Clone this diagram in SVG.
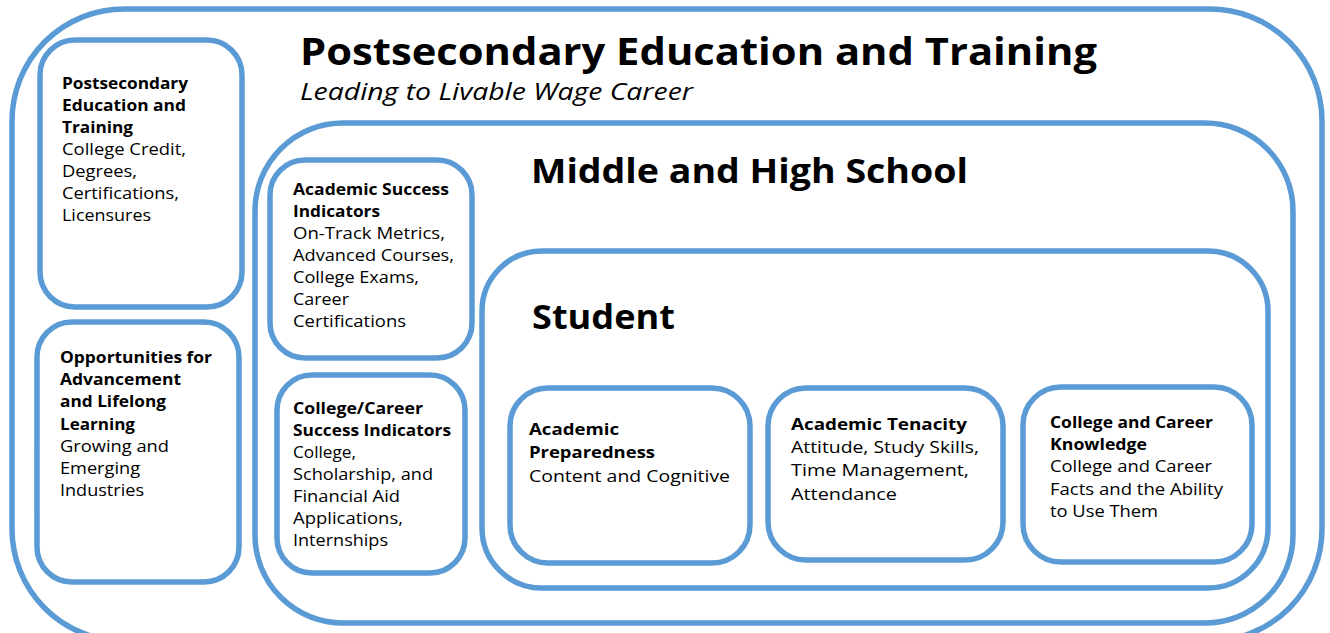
<svg xmlns="http://www.w3.org/2000/svg" width="1330" height="633" viewBox="0 0 1330 633">
<style>
.box{fill:#fff;stroke:#5b9bd5;stroke-width:5.5}
text{font-family:"Open Sans","DejaVu Sans",sans-serif;fill:#000}
.t{font-size:16.5px}
.b{font-size:16.5px;font-weight:bold}
.h1{font-size:38px;font-weight:bold}
.h2{font-size:34px;font-weight:bold}
.sub{font-size:23.5px;font-style:italic}
</style>
<rect width="1330" height="633" fill="#fff"/>
<g id="outer">
<rect class="box" x="12" y="9" width="1310" height="632" rx="112"/>
<text class="h1" x="300" y="65" textLength="797" lengthAdjust="spacingAndGlyphs">Postsecondary Education and Training</text>
<text class="sub" x="300" y="100" textLength="393" lengthAdjust="spacingAndGlyphs">Leading to Livable Wage Career</text>
</g>
<g id="postsecondary">
<rect class="box" x="40" y="40" width="202" height="267" rx="35"/>
<text class="b" x="62" y="89" textLength="126" lengthAdjust="spacingAndGlyphs">Postsecondary</text>
<text class="b" x="62" y="111" textLength="124" lengthAdjust="spacingAndGlyphs">Education and</text>
<text class="b" x="62" y="133" textLength="71" lengthAdjust="spacingAndGlyphs">Training</text>
<text class="t" x="62" y="155" textLength="124" lengthAdjust="spacingAndGlyphs">College Credit,</text>
<text class="t" x="62" y="177" textLength="75" lengthAdjust="spacingAndGlyphs">Degrees,</text>
<text class="t" x="62" y="199" textLength="117" lengthAdjust="spacingAndGlyphs">Certifications,</text>
<text class="t" x="62" y="221" textLength="89" lengthAdjust="spacingAndGlyphs">Licensures</text>
</g>
<g id="opportunities">
<rect class="box" x="37" y="322" width="202" height="260" rx="35"/>
<text class="b" x="60" y="363" textLength="152" lengthAdjust="spacingAndGlyphs">Opportunities for</text>
<text class="b" x="60" y="385" textLength="121" lengthAdjust="spacingAndGlyphs">Advancement</text>
<text class="b" x="60" y="407" textLength="106" lengthAdjust="spacingAndGlyphs">and Lifelong</text>
<text class="b" x="60" y="430" textLength="75" lengthAdjust="spacingAndGlyphs">Learning</text>
<text class="t" x="60" y="452" textLength="109" lengthAdjust="spacingAndGlyphs">Growing and</text>
<text class="t" x="60" y="474" textLength="80" lengthAdjust="spacingAndGlyphs">Emerging</text>
<text class="t" x="60" y="496" textLength="84" lengthAdjust="spacingAndGlyphs">Industries</text>
</g>
<g id="middle-high">
<rect class="box" x="255" y="123" width="1038" height="500" rx="88"/>
<text class="h2" x="531" y="183" textLength="437" lengthAdjust="spacingAndGlyphs">Middle and High School</text>
</g>
<g id="academic-success">
<rect class="box" x="270" y="160" width="202" height="198" rx="35"/>
<text class="b" x="293" y="195" textLength="156" lengthAdjust="spacingAndGlyphs">Academic Success</text>
<text class="b" x="293" y="217" textLength="87" lengthAdjust="spacingAndGlyphs">Indicators</text>
<text class="t" x="293" y="239" textLength="152" lengthAdjust="spacingAndGlyphs">On-Track Metrics,</text>
<text class="t" x="293" y="261" textLength="161" lengthAdjust="spacingAndGlyphs">Advanced Courses,</text>
<text class="t" x="293" y="283" textLength="126" lengthAdjust="spacingAndGlyphs">College Exams,</text>
<text class="t" x="293" y="305" textLength="56" lengthAdjust="spacingAndGlyphs">Career</text>
<text class="t" x="293" y="327" textLength="113" lengthAdjust="spacingAndGlyphs">Certifications</text>
</g>
<g id="college-career-success">
<rect class="box" x="277" y="375" width="188" height="198" rx="35"/>
<text class="b" x="293" y="414" textLength="130" lengthAdjust="spacingAndGlyphs">College/Career</text>
<text class="b" x="293" y="436" textLength="158" lengthAdjust="spacingAndGlyphs">Success Indicators</text>
<text class="t" x="293" y="458" textLength="63" lengthAdjust="spacingAndGlyphs">College,</text>
<text class="t" x="293" y="480" textLength="140" lengthAdjust="spacingAndGlyphs">Scholarship, and</text>
<text class="t" x="293" y="502" textLength="107" lengthAdjust="spacingAndGlyphs">Financial Aid</text>
<text class="t" x="293" y="524" textLength="110" lengthAdjust="spacingAndGlyphs">Applications,</text>
<text class="t" x="293" y="546" textLength="95" lengthAdjust="spacingAndGlyphs">Internships</text>
</g>
<g id="student">
<rect class="box" x="482" y="251" width="786" height="337" rx="60"/>
<text class="h2" x="532" y="329" textLength="143" lengthAdjust="spacingAndGlyphs">Student</text>
</g>
<g id="academic-preparedness">
<rect class="box" x="510" y="388" width="240" height="175" rx="38"/>
<text class="b" x="529" y="435" textLength="90" lengthAdjust="spacingAndGlyphs">Academic</text>
<text class="b" x="529" y="458" textLength="126" lengthAdjust="spacingAndGlyphs">Preparedness</text>
<text class="t" x="529" y="482" textLength="201" lengthAdjust="spacingAndGlyphs">Content and Cognitive</text>
</g>
<g id="academic-tenacity">
<rect class="box" x="768" y="388" width="235" height="172" rx="38"/>
<text class="b" x="791" y="430" textLength="176" lengthAdjust="spacingAndGlyphs">Academic Tenacity</text>
<text class="t" x="791" y="453" textLength="188" lengthAdjust="spacingAndGlyphs">Attitude, Study Skills,</text>
<text class="t" x="791" y="476" textLength="178" lengthAdjust="spacingAndGlyphs">Time Management,</text>
<text class="t" x="791" y="500" textLength="106" lengthAdjust="spacingAndGlyphs">Attendance</text>
</g>
<g id="college-career-knowledge">
<rect class="box" x="1023" y="387" width="229" height="175" rx="38"/>
<text class="b" x="1050" y="428" textLength="163" lengthAdjust="spacingAndGlyphs">College and Career</text>
<text class="b" x="1050" y="450" textLength="97" lengthAdjust="spacingAndGlyphs">Knowledge</text>
<text class="t" x="1050" y="472" textLength="162" lengthAdjust="spacingAndGlyphs">College and Career</text>
<text class="t" x="1050" y="495" textLength="173" lengthAdjust="spacingAndGlyphs">Facts and the Ability</text>
<text class="t" x="1050" y="517" textLength="108" lengthAdjust="spacingAndGlyphs">to Use Them</text>
</g>
<g id="connectors"></g>
</svg>
